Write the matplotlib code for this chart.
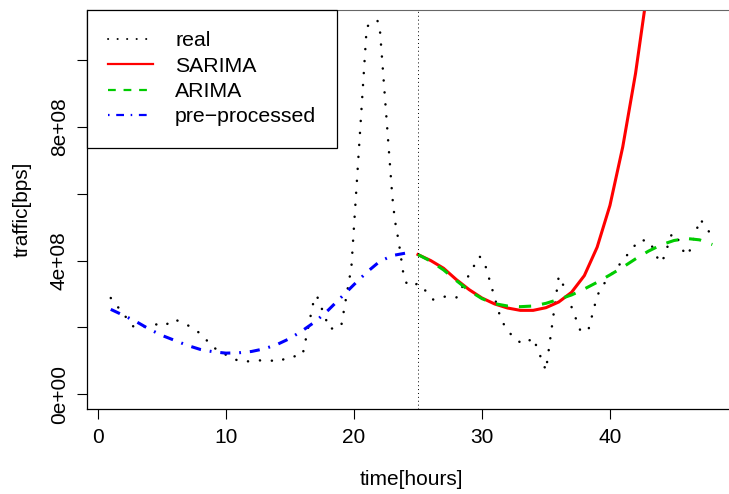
import numpy as np
import matplotlib.pyplot as plt
from matplotlib.lines import Line2D

plt.rcParams['font.family'] = ['Liberation Sans', 'DejaVu Sans']

# observed traffic (hours, bps) - vertices of the dotted curve
real_x = [1.0, 2.8, 3.6, 4.4, 5.2, 5.9, 6.7, 7.5, 8.3, 8.8, 10.4, 11.2, 12.3,
          13.2, 14.1, 14.9, 15.9, 16.0, 16.9, 17.1, 18.1, 19.0, 19.8, 21.0,
          21.8, 22.0, 23.0, 23.2, 23.5, 23.9, 24.2, 25.1, 26.2, 27.1, 28.0,
          29.8, 30.2, 31.5, 32.0, 32.6, 33.3, 34.0, 35.0, 36.0, 36.4, 37.7,
          38.3, 39.0, 39.4, 42.3, 43.1, 43.9, 44.2, 44.8, 45.1, 45.9, 46.2,
          47.05, 47.6, 48.0]
real_y = [2.88, 2.01, 2.01, 2.10, 2.04, 2.25, 2.13, 1.96, 1.72, 1.45, 1.09,
          0.97, 1.00, 1.03, 0.97, 1.12, 1.15, 1.20, 2.88, 2.95, 1.95, 2.03,
          3.80, 11.0, 11.2, 11.05, 5.9, 5.2, 4.56, 3.5, 3.25, 3.31, 2.83,
          2.92, 2.89, 4.13, 3.94, 2.22, 1.92, 1.63, 1.50, 1.69, 0.71, 3.53,
          3.23, 1.89, 1.90, 2.94, 3.24, 4.62, 4.58, 3.93, 4.08, 4.76, 4.82,
          4.15, 4.26, 5.24, 4.95, 4.70]

pre_x = list(range(1, 25))
pre_y = [2.54, 2.36, 2.17, 1.95, 1.76, 1.61, 1.46, 1.34, 1.27, 1.23, 1.24,
         1.28, 1.36, 1.49, 1.67, 1.91, 2.18, 2.52, 2.90, 3.28, 3.65, 3.97,
         4.15, 4.22]

fc_x = list(range(25, 49))
sarima_y = [4.18, 4.00, 3.77, 3.43, 3.13, 2.88, 2.70, 2.58, 2.51, 2.51, 2.59,
            2.76, 3.05, 3.55, 4.40, 5.65, 7.40, 9.60, 12.3, 15.5, 19.0, 23.0,
            27.5, 32.5]
arima_y = [4.18, 3.98, 3.72, 3.40, 3.10, 2.86, 2.71, 2.64, 2.62, 2.64, 2.72,
           2.84, 2.97, 3.15, 3.35, 3.57, 3.80, 4.05, 4.28, 4.47, 4.60, 4.66,
           4.62, 4.48]

split_hour = 25
scale = 1e8
fs = 15

fig = plt.figure(figsize=(7.29, 4.94), dpi=100)
ax = fig.add_axes([86.7 / 729, 85 / 494, 649.7 / 729, 399 / 494])

real_ls = (0, (0.05, 4.75))
green_ls = (0, (4.0, 3.6))
blue_ls = (0, (3.3, 2.9, 0.6, 2.9))

ax.plot(real_x, np.array(real_y) * scale, color='black', lw=1.8,
        linestyle=real_ls, dash_capstyle='round')
ax.plot(pre_x, np.array(pre_y) * scale, color='blue', lw=2.2,
        linestyle=blue_ls)
ax.plot(fc_x, np.array(sarima_y) * scale, color='red', lw=2.2)
ax.plot(fc_x, np.array(arima_y) * scale, color='#00cc00', lw=2.2,
        linestyle=green_ls)
ax.axvline(split_hour, color='black', lw=0.7, linestyle=(0, (1, 3)))

ax.set_xlim(-0.88, 49.88)
ax.set_ylim(-4.42e7, 1.1498e9)

ax.set_xticks([0, 10, 20, 30, 40])
ax.set_yticks([0, 2e8, 4e8, 6e8, 8e8, 1e9])
ax.set_yticklabels(['0e+00', '', '4e+08', '', '8e+08', ''],
                   rotation=90, va='center')
ax.tick_params(axis='both', length=7, width=0.8, labelsize=fs,
               direction='out')
ax.tick_params(axis='x', pad=7)
ax.tick_params(axis='y', pad=6)

ax.spines['right'].set_visible(False)
ax.spines['top'].set_color('#666666')
for s in ['left', 'bottom']:
    ax.spines[s].set_linewidth(0.9)

ax.set_xlabel('time[hours]', fontsize=fs, labelpad=16)
ax.set_ylabel('traffic[bps]', fontsize=fs, labelpad=13)

handles = [
    Line2D([], [], color='black', lw=1.4, linestyle=(0, (0.1, 4.8)),
           dash_capstyle='round'),
    Line2D([], [], color='red', lw=1.6),
    Line2D([], [], color='#00cc00', lw=1.6, linestyle=(0, (3.5, 3.5))),
    Line2D([], [], color='blue', lw=1.6, linestyle=(0, (0.7, 3.0, 3.5, 3.0))),
]
leg = ax.legend(handles, ['real', 'SARIMA', 'ARIMA', 'pre\u2212processed'],
                loc='upper left', bbox_to_anchor=(0, 1), borderaxespad=0,
                fontsize=15.3, fancybox=False, framealpha=1,
                handlelength=2.12, handletextpad=1.04, labelspacing=0.30,
                borderpad=1.0)
leg.get_frame().set_edgecolor('black')
leg.get_frame().set_linewidth(0.9)

fig.savefig('out.png', dpi=100)
